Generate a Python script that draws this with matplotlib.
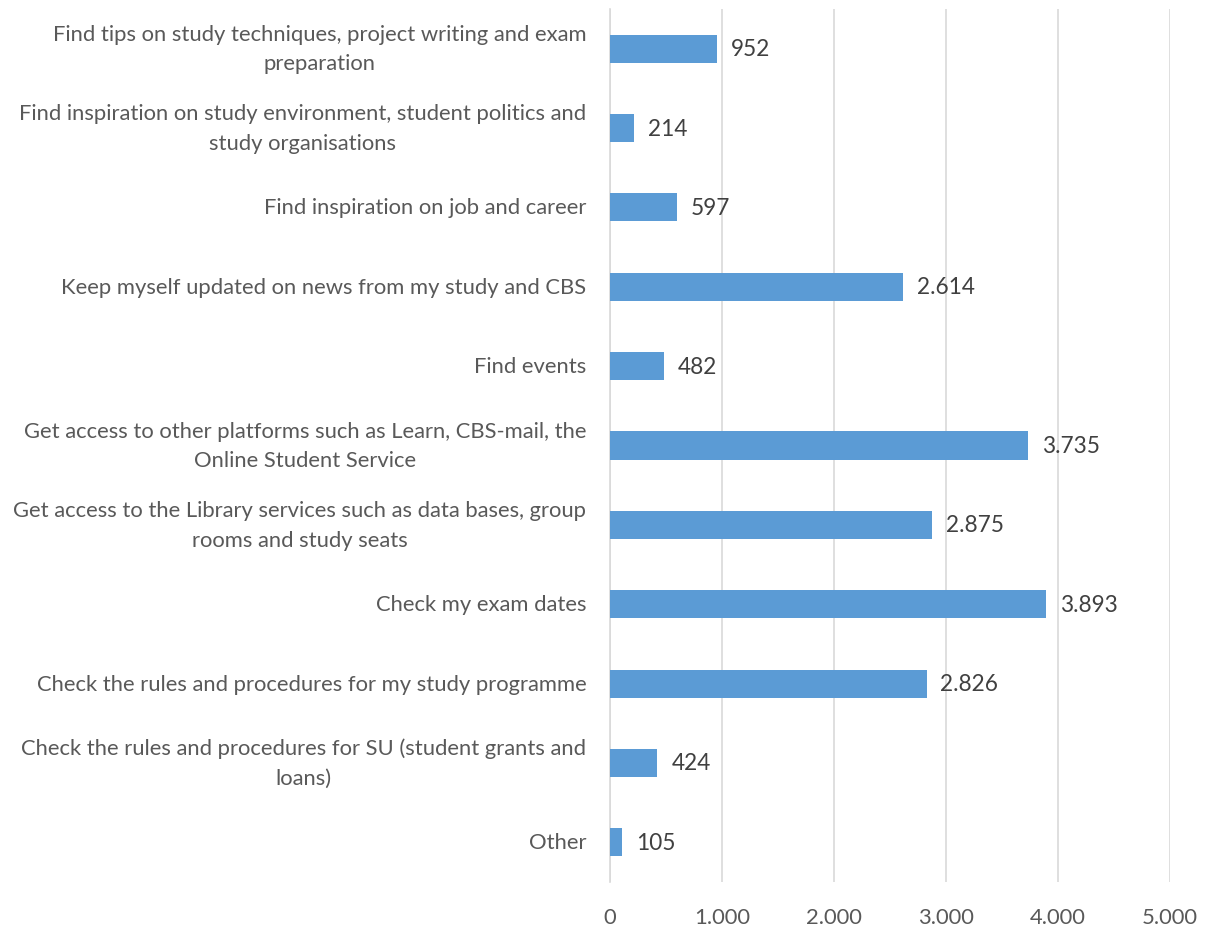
import matplotlib.pyplot as plt

categories = [
    'Find tips on study techniques, project writing and exam\npreparation',
    'Find inspiration on study environment, student politics and\nstudy organisations',
    'Find inspiration on job and career',
    'Keep myself updated on news from my study and CBS',
    'Find events',
    'Get access to other platforms such as Learn, CBS-mail, the\nOnline Student Service',
    'Get access to the Library services such as data bases, group\nrooms and study seats',
    'Check my exam dates',
    'Check the rules and procedures for my study programme',
    'Check the rules and procedures for SU (student grants and\nloans)',
    'Other',
]
values = [952, 214, 597, 2614, 482, 3735, 2875, 3893, 2826, 424, 105]
xticks = [0, 1000, 2000, 3000, 4000, 5000]


def fmt(v):
    return f'{v:,}'.replace(',', '.')


plt.rcParams['font.family'] = ['Lato', 'DejaVu Sans']

fig = plt.figure(figsize=(12.09, 9.28), dpi=100)
ax = fig.add_axes([610 / 1209, 45 / 928, 560 / 1209, 873 / 928])

pos = list(range(len(categories)))[::-1]
ax.barh(pos, values, height=0.355, color='#5B9BD5', zorder=3)

for p, v in zip(pos, values):
    ax.annotate(fmt(v), (v, p), xytext=(10, 0), textcoords='offset points',
                va='center', ha='left', fontsize=16.3, color='#404040')

ax.set_xlim(0, 5000)
ax.set_ylim(-0.5, len(categories) - 0.5)
ax.set_xticks(xticks)
ax.set_xticklabels([fmt(t) for t in xticks])
ax.set_yticks(pos)
ax.set_yticklabels(categories, multialignment='center', linespacing=1.6, va='center')
ax.tick_params(axis='both', length=0, labelsize=15.8, labelcolor='#595959')
ax.tick_params(axis='y', pad=17)
ax.tick_params(axis='x', pad=18)
ax.grid(axis='x', color='#d9d9d9', linewidth=1.2, zorder=0)
for s in ['top', 'right', 'bottom']:
    ax.spines[s].set_visible(False)
ax.spines['left'].set_color('#d9d9d9')
ax.spines['left'].set_linewidth(1.2)

fig.savefig('out.png', dpi=100)
